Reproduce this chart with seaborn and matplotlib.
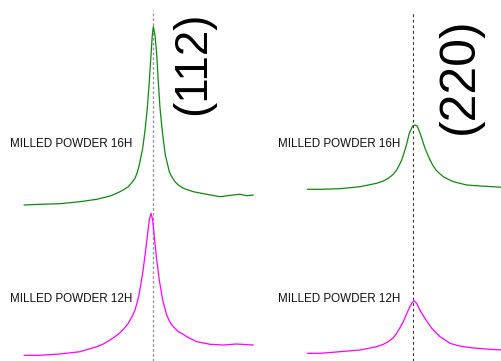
import matplotlib
matplotlib.use("Agg")
import matplotlib.pyplot as plt
import seaborn as sns
import numpy as np

# ---------------- data (2theta in degrees, intensity in a.u.) ----------------
# (112) peak region
tt112_16h = [26.386, 26.643, 26.965, 27.286, 27.555, 27.661, 27.769, 27.849, 27.929,
             27.999, 28.063, 28.118, 28.171, 28.208, 28.240, 28.294, 28.336, 28.368,
             28.400, 28.428, 28.449, 28.465, 28.492, 28.520, 28.545, 28.573, 28.616,
             28.658, 28.722, 28.761, 28.814, 28.867, 28.947, 29.108, 29.323, 29.537,
             29.751, 29.859, 29.967, 30.073]
int112_16h = [6.0, 6.7, 7.3, 9.3, 11.7, 13.3, 15.0, 17.0, 19.3,
              21.7, 24.3, 28.3, 32.7, 38.7, 46.0, 62.7, 82.7, 102.7,
              129.3, 156.0, 176.0, 184.3, 176.0, 156.0, 129.3, 102.7, 76.0,
              56.0, 39.3, 34.3, 29.3, 26.0, 22.7, 19.3, 16.7, 14.3,
              16.0, 16.7, 15.3, 16.0]

tt112_12h = [26.386, 26.643, 26.965, 27.286, 27.555, 27.661, 27.769, 27.849, 27.929,
             27.999, 28.063, 28.118, 28.171, 28.208, 28.240, 28.294, 28.336, 28.368,
             28.400, 28.428, 28.455, 28.481, 28.520, 28.561, 28.616, 28.680, 28.722,
             28.761, 28.814, 28.867, 28.947, 29.002, 29.163, 29.376, 29.590, 29.806,
             30.073]
int112_12h = [5.7, 5.7, 7.0, 9.3, 14.3, 17.0, 21.0, 24.3, 28.3,
              32.7, 37.7, 43.7, 51.0, 59.3, 67.7, 87.7, 107.7, 124.3,
              141.0, 147.7, 141.0, 124.3, 101.0, 81.0, 61.0, 46.0, 40.3,
              36.0, 32.7, 29.3, 26.7, 24.3, 19.3, 16.7, 16.0, 17.0,
              16.0]

# (220) peak region
tt220_16h = [46.035, 46.190, 46.432, 46.675, 46.878, 46.958, 47.019, 47.080, 47.121,
             47.153, 47.182, 47.234, 47.274, 47.315, 47.343, 47.371, 47.413, 47.465,
             47.526, 47.558, 47.598, 47.639, 47.687, 47.748, 47.809, 47.971, 48.133,
             48.294, 48.397]
int220_16h = [6.7, 6.7, 7.3, 9.3, 12.7, 15.0, 17.7, 21.7, 26.0,
              31.0, 36.0, 49.3, 62.7, 70.0, 71.0, 70.0, 61.0, 47.7,
              36.0, 31.0, 26.0, 22.7, 19.3, 16.7, 14.3, 11.0, 10.0,
              9.3, 8.7]

tt220_12h = [46.035, 46.190, 46.432, 46.675, 46.878, 46.958, 47.019, 47.080, 47.121,
             47.161, 47.201, 47.262, 47.303, 47.331, 47.364, 47.413, 47.477, 47.546,
             47.598, 47.647, 47.708, 47.769, 47.850, 47.930, 48.093, 48.254, 48.397]
int220_12h = [7.7, 7.7, 9.3, 11.0, 14.3, 16.7, 19.3, 23.3, 27.7,
              33.3, 39.3, 51.0, 57.7, 60.3, 57.7, 49.3, 41.0, 32.7,
              28.3, 24.3, 21.0, 17.7, 15.7, 14.3, 12.7, 11.7, 11.0]

offset_112 = 150.0     # vertical stacking offset of the 16H pattern
offset_220 = 165.0
ref_112 = 28.455       # reference peak positions (dashed lines)
ref_220 = 47.313

labels = ["MILLED POWDER 16H", "MILLED POWDER 12H"]
planes = ["(112)", "(220)"]

# ---------------- styling ----------------
sns.set_theme(style="white")
plt.rcParams["font.family"] = ["Liberation Sans", "DejaVu Sans"]

GREEN = "#108810"
MAGENTA = "#ff00ff"

fig = plt.figure(figsize=(5.02, 3.61), dpi=100)
ax1 = fig.add_axes([0.0, 0.0, 255 / 502, 1.0])
ax2 = fig.add_axes([255 / 502, 0.0, 247 / 502, 1.0])

for ax in (ax1, ax2):
    ax.set_ylim(0, 361)
    ax.set_axis_off()
    ax.patch.set_alpha(0)

ax1.set_xlim(26.0, 30.1)
ax2.set_xlim(45.4, 48.4)

# left panel (112)
sns.lineplot(x=tt112_16h, y=np.array(int112_16h) + offset_112, ax=ax1,
             color=GREEN, linewidth=0.9, legend=False)
sns.lineplot(x=tt112_12h, y=int112_12h, ax=ax1,
             color=MAGENTA, linewidth=0.9, legend=False)
ax1.axvline(ref_112, ymin=0, ymax=351 / 361, color="#999999",
            linewidth=1.0, linestyle=(0, (2, 1.5)), zorder=0)

# right panel (220)
sns.lineplot(x=tt220_16h, y=np.array(int220_16h) + offset_220, ax=ax2,
             color=GREEN, linewidth=0.9, legend=False)
sns.lineplot(x=tt220_12h, y=int220_12h, ax=ax2,
             color=MAGENTA, linewidth=0.9, legend=False)
ax2.axvline(ref_220, ymin=0, ymax=349 / 361, color="#333333",
            linewidth=0.8, linestyle=(0, (2.5, 2.5)), zorder=0)

# sample labels
for ax, x0 in ((ax1, 26.161), (ax2, 45.679)):
    ax.text(x0, 217, labels[0], fontsize=8.4, ha="left", va="center", color="#111111")
    ax.text(x0, 62, labels[1], fontsize=8.4, ha="left", va="center", color="#111111")

# plane labels
ax1.text(29.103, 298, planes[0], fontsize=33, rotation=90, ha="center", va="center",
         color="#000000")
ax2.text(47.890, 285, planes[1], fontsize=36, rotation=90, ha="center", va="center",
         color="#000000")

fig.savefig("out.png", dpi=100)
